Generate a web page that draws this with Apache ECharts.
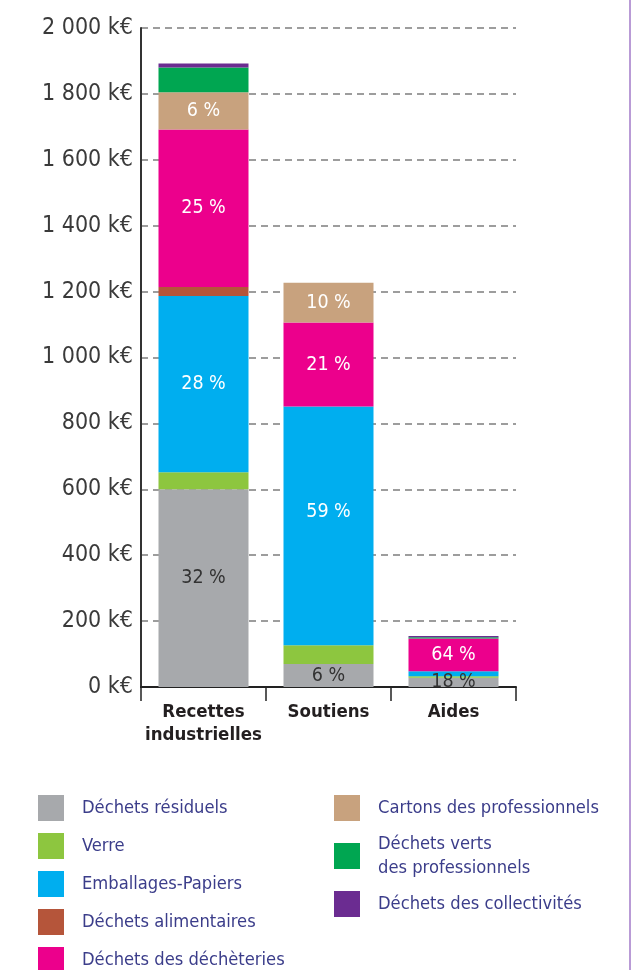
<!DOCTYPE html>
<html>
<head>
<meta charset="utf-8">
<script src="https://cdn.jsdelivr.net/npm/echarts@6/dist/echarts.min.js"></script>
<style>
  html, body { margin: 0; padding: 0; background: #ffffff; }
  #chart { width: 636px; height: 970px; }
</style>
</head>
<body>
<div id="chart"></div>
<script>
// Budget breakdown by waste stream (k€)
const categories = ['Recettes\nindustrielles', 'Soutiens', 'Aides'];

const seriesNames = [
  'Déchets résiduels',
  'Verre',
  'Emballages-Papiers',
  'Déchets alimentaires',
  'Déchets des déchèteries',
  'Cartons des professionnels',
  'Déchets verts des professionnels',
  'Déchets des collectivités'
];

// values per stream, in the order of categories
const residuels    = [600, 70, 28];
const verre        = [52, 57, 5];
const emballages   = [535, 724, 15];
const alimentaires = [27, 0, 0];
const decheteries  = [478, 255, 99];
const cartons      = [113, 121, 0];
const vertsPro     = [75, 0, 4];
const collectivites = [12, 0, 4];

// share labels printed inside the segments (null = no label)
const pctResiduels   = ['32 %', '6 %', '18 %'];
const pctEmballages  = ['28 %', '59 %', null];
const pctDecheteries = ['25 %', '21 %', '64 %'];
const pctCartons     = ['6 %', '10 %', null];

const yTicks = [0, 200, 400, 600, 800, 1000, 1200, 1400, 1600, 1800, 2000];

const colors = ['#a7a9ac', '#8dc63f', '#00aeef', '#b5553a', '#ec008c', '#c8a27e', '#00a651', '#6b2c91'];

const values = [residuels, verre, emballages, alimentaires, decheteries, cartons, vertsPro, collectivites];
const pctBySeries = { 0: pctResiduels, 2: pctEmballages, 4: pctDecheteries, 5: pctCartons };
// dark text on the grey segments, white elsewhere
const darkLabelSeries = { 0: true };
// small vertical nudges for a couple of labels
const labelNudge = { '0-0': -10, '2-1': -14 };

// condensed face of the sans family
const fontFam = '"DejaVu Sans", sans-serif';
const fontStretch = 'condensed';

function formatK(v) {
  const s = String(v);
  const withSep = s.length > 3 ? s.slice(0, s.length - 3) + ' ' + s.slice(s.length - 3) : s;
  return withSep + ' k€';
}

const series = values.map((vals, si) => ({
  name: seriesNames[si],
  type: 'bar',
  stack: 'total',
  barWidth: 90,
  itemStyle: { color: colors[si] },
  emphasis: { disabled: true },
  data: vals.map((v, ci) => {
    const pct = pctBySeries[si] ? pctBySeries[si][ci] : null;
    const item = { value: v };
    if (pct) {
      item.label = {
        show: true,
        position: 'inside',
        formatter: pct,
        color: darkLabelSeries[si] ? '#333333' : '#ffffff',
        fontFamily: fontFam,
        fontStyle: fontStretch,
        fontSize: 19.5,
        offset: [0, labelNudge[si + '-' + ci] || 0]
      };
    }
    return item;
  })
}));

// legend rows: [series index, left, top, extra top padding of the text]
const legendRows = [
  [0, 38, 795, 0], [1, 38, 833, 0], [2, 38, 871, 0], [3, 38, 909, 0], [4, 38, 947, 0],
  [5, 334, 795, 0], [6, 334, 827, 10], [7, 334, 891, 0]
];

const legends = legendRows.map(([si, left, top, padTop]) => ({
  orient: 'vertical',
  left: left,
  top: top,
  itemWidth: 26,
  itemHeight: 26,
  icon: 'rect',
  selectedMode: false,
  padding: 0,
  data: [seriesNames[si]],
  formatter: n => n === 'Déchets verts des professionnels' ? 'Déchets verts\ndes professionnels' : n,
  textStyle: {
    fontFamily: fontFam,
    fontStyle: fontStretch,
    fontSize: 18.2,
    color: '#3b3d8a',
    lineHeight: 24,
    padding: [padTop, 0, 0, 13]
  }
}));

const chart = echarts.init(document.getElementById('chart'), null, { renderer: 'canvas' });

chart.setOption({
  animation: false,
  backgroundColor: '#ffffff',
  grid: { left: 141, right: 120, top: 28, bottom: 283, containLabel: false },
  legend: legends,
  xAxis: {
    type: 'category',
    data: categories,
    axisLine: { lineStyle: { color: '#222222', width: 2 } },
    axisTick: { show: true, length: 14, lineStyle: { color: '#222222', width: 1.5 } },
    axisLabel: {
      interval: 0,
      fontFamily: fontFam,
      fontStyle: fontStretch,
      fontWeight: 'bold',
      fontSize: 18.5,
      color: '#231f20',
      lineHeight: 23,
      margin: 14
    }
  },
  yAxis: {
    type: 'value',
    min: yTicks[0],
    max: yTicks[yTicks.length - 1],
    interval: yTicks[1] - yTicks[0],
    axisLine: { show: true, lineStyle: { color: '#333333', width: 2 } },
    axisTick: { show: false },
    axisLabel: {
      formatter: formatK,
      fontFamily: fontFam,
      fontStyle: fontStretch,
      fontSize: 23,
      color: '#3a3a3a',
      margin: 8
    },
    splitLine: {
      show: true,
      lineStyle: { color: '#7d7d7d', width: 1.5, type: [7, 5] }
    }
  },
  series: series,
  graphic: [
    {
      type: 'rect',
      left: 629,
      top: 0,
      shape: { width: 2, height: 970 },
      style: { fill: '#b99bd6' },
      silent: true
    }
  ]
});
</script>
</body>
</html>
